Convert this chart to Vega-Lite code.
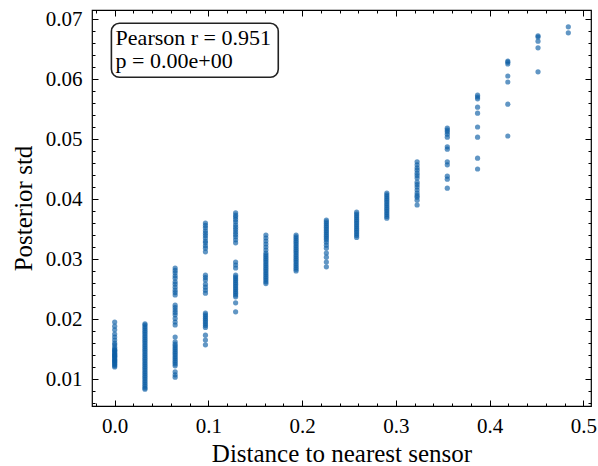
{
  "$schema": "https://vega.github.io/schema/vega-lite/v6.json",
  "width": 499,
  "height": 396,
  "autosize": "none",
  "padding": {"left": 92, "top": 10, "right": 7, "bottom": 60},
  "background": "white",
  "config": {
    "view": {"stroke": "#000", "strokeWidth": 1.2},
    "axis": {"domain": false, "grid": false, "tickColor": "#000", "tickWidth": 1, "labelColor": "#000", "titleColor": "#000", "labelFont": "Liberation Serif", "titleFont": "Liberation Serif", "titleFontWeight": "normal", "labelFontSize": 21, "titleFontSize": 25, "labelOverlap": false, "labelFlush": false}
  },
  "data": {"values": [
    {"dist":0,"std":0.0195},{"dist":0,"std":0.0188},{"dist":0,"std":0.0182},{"dist":0,"std":0.0175},{"dist":0,"std":0.017},{"dist":0,"std":0.0165},{"dist":0,"std":0.016},{"dist":0,"std":0.0157},{"dist":0,"std":0.0153},{"dist":0,"std":0.015},{"dist":0,"std":0.0148},{"dist":0,"std":0.0147},{"dist":0,"std":0.0145},{"dist":0,"std":0.0143},{"dist":0,"std":0.0141},{"dist":0,"std":0.014},{"dist":0,"std":0.0138},{"dist":0,"std":0.0137},{"dist":0,"std":0.0135},{"dist":0,"std":0.0133},{"dist":0,"std":0.0131},{"dist":0,"std":0.013},{"dist":0,"std":0.0128},{"dist":0,"std":0.0126},{"dist":0,"std":0.0124},{"dist":0,"std":0.0122},{"dist":0,"std":0.012},
    {"dist":0.0323,"std":0.0192},{"dist":0.0323,"std":0.019},{"dist":0.0323,"std":0.0187},{"dist":0.0323,"std":0.0184},{"dist":0.0323,"std":0.0181},{"dist":0.0323,"std":0.0178},{"dist":0.0323,"std":0.0175},{"dist":0.0323,"std":0.0172},{"dist":0.0323,"std":0.0169},{"dist":0.0323,"std":0.0166},{"dist":0.0323,"std":0.0163},{"dist":0.0323,"std":0.016},{"dist":0.0323,"std":0.0157},{"dist":0.0323,"std":0.0154},{"dist":0.0323,"std":0.0151},{"dist":0.0323,"std":0.0148},{"dist":0.0323,"std":0.0145},{"dist":0.0323,"std":0.0142},{"dist":0.0323,"std":0.0139},{"dist":0.0323,"std":0.0136},{"dist":0.0323,"std":0.0133},{"dist":0.0323,"std":0.013},{"dist":0.0323,"std":0.0127},{"dist":0.0323,"std":0.0124},{"dist":0.0323,"std":0.0121},{"dist":0.0323,"std":0.0118},{"dist":0.0323,"std":0.0115},{"dist":0.0323,"std":0.0112},{"dist":0.0323,"std":0.0109},{"dist":0.0323,"std":0.0106},{"dist":0.0323,"std":0.0103},{"dist":0.0323,"std":0.01},{"dist":0.0323,"std":0.0097},{"dist":0.0323,"std":0.0094},{"dist":0.0323,"std":0.0091},{"dist":0.0323,"std":0.0088},{"dist":0.0323,"std":0.0085},{"dist":0.0323,"std":0.0083},
    {"dist":0.0645,"std":0.0285},{"dist":0.0645,"std":0.0281},{"dist":0.0645,"std":0.0277},{"dist":0.0645,"std":0.0272},{"dist":0.0645,"std":0.0268},{"dist":0.0645,"std":0.0262},{"dist":0.0645,"std":0.0258},{"dist":0.0645,"std":0.0253},{"dist":0.0645,"std":0.0248},{"dist":0.0645,"std":0.0244},{"dist":0.0645,"std":0.024},{"dist":0.0645,"std":0.0223},{"dist":0.0645,"std":0.0219},{"dist":0.0645,"std":0.0215},{"dist":0.0645,"std":0.0211},{"dist":0.0645,"std":0.0207},{"dist":0.0645,"std":0.0201},{"dist":0.0645,"std":0.0195},{"dist":0.0645,"std":0.019},{"dist":0.0645,"std":0.017},{"dist":0.0645,"std":0.0162},{"dist":0.0645,"std":0.0158},{"dist":0.0645,"std":0.0155},{"dist":0.0645,"std":0.0152},{"dist":0.0645,"std":0.0149},{"dist":0.0645,"std":0.0146},{"dist":0.0645,"std":0.0143},{"dist":0.0645,"std":0.014},{"dist":0.0645,"std":0.0137},{"dist":0.0645,"std":0.0134},{"dist":0.0645,"std":0.0131},{"dist":0.0645,"std":0.0128},{"dist":0.0645,"std":0.0125},{"dist":0.0645,"std":0.0122},{"dist":0.0645,"std":0.0112},{"dist":0.0645,"std":0.0107},{"dist":0.0645,"std":0.0103},
    {"dist":0.0968,"std":0.036},{"dist":0.0968,"std":0.0356},{"dist":0.0968,"std":0.0352},{"dist":0.0968,"std":0.0347},{"dist":0.0968,"std":0.0343},{"dist":0.0968,"std":0.0339},{"dist":0.0968,"std":0.0335},{"dist":0.0968,"std":0.033},{"dist":0.0968,"std":0.0327},{"dist":0.0968,"std":0.0322},{"dist":0.0968,"std":0.0318},{"dist":0.0968,"std":0.0312},{"dist":0.0968,"std":0.0273},{"dist":0.0968,"std":0.0269},{"dist":0.0968,"std":0.0265},{"dist":0.0968,"std":0.0258},{"dist":0.0968,"std":0.0253},{"dist":0.0968,"std":0.0248},{"dist":0.0968,"std":0.0243},{"dist":0.0968,"std":0.021},{"dist":0.0968,"std":0.0207},{"dist":0.0968,"std":0.0204},{"dist":0.0968,"std":0.0201},{"dist":0.0968,"std":0.0198},{"dist":0.0968,"std":0.0195},{"dist":0.0968,"std":0.0192},{"dist":0.0968,"std":0.0189},{"dist":0.0968,"std":0.0186},{"dist":0.0968,"std":0.0173},{"dist":0.0968,"std":0.0165},{"dist":0.0968,"std":0.0157},
    {"dist":0.129,"std":0.0377},{"dist":0.129,"std":0.0373},{"dist":0.129,"std":0.037},{"dist":0.129,"std":0.0366},{"dist":0.129,"std":0.0362},{"dist":0.129,"std":0.0357},{"dist":0.129,"std":0.0353},{"dist":0.129,"std":0.0349},{"dist":0.129,"std":0.0345},{"dist":0.129,"std":0.0341},{"dist":0.129,"std":0.0337},{"dist":0.129,"std":0.0332},{"dist":0.129,"std":0.0327},{"dist":0.129,"std":0.0295},{"dist":0.129,"std":0.029},{"dist":0.129,"std":0.0285},{"dist":0.129,"std":0.0273},{"dist":0.129,"std":0.027},{"dist":0.129,"std":0.0267},{"dist":0.129,"std":0.0264},{"dist":0.129,"std":0.0261},{"dist":0.129,"std":0.0258},{"dist":0.129,"std":0.0255},{"dist":0.129,"std":0.0252},{"dist":0.129,"std":0.0249},{"dist":0.129,"std":0.0246},{"dist":0.129,"std":0.0243},{"dist":0.129,"std":0.024},{"dist":0.129,"std":0.0237},{"dist":0.129,"std":0.0227},{"dist":0.129,"std":0.0212},
    {"dist":0.1613,"std":0.034},{"dist":0.1613,"std":0.0335},{"dist":0.1613,"std":0.033},{"dist":0.1613,"std":0.0325},{"dist":0.1613,"std":0.032},{"dist":0.1613,"std":0.0315},{"dist":0.1613,"std":0.031},{"dist":0.1613,"std":0.0307},{"dist":0.1613,"std":0.0304},{"dist":0.1613,"std":0.0301},{"dist":0.1613,"std":0.0298},{"dist":0.1613,"std":0.0295},{"dist":0.1613,"std":0.0292},{"dist":0.1613,"std":0.0289},{"dist":0.1613,"std":0.0286},{"dist":0.1613,"std":0.0283},{"dist":0.1613,"std":0.028},{"dist":0.1613,"std":0.0277},{"dist":0.1613,"std":0.0274},{"dist":0.1613,"std":0.0271},{"dist":0.1613,"std":0.0268},{"dist":0.1613,"std":0.0265},{"dist":0.1613,"std":0.0262},{"dist":0.1613,"std":0.0259},
    {"dist":0.1935,"std":0.034},{"dist":0.1935,"std":0.0337},{"dist":0.1935,"std":0.0334},{"dist":0.1935,"std":0.0331},{"dist":0.1935,"std":0.0328},{"dist":0.1935,"std":0.0325},{"dist":0.1935,"std":0.0322},{"dist":0.1935,"std":0.0319},{"dist":0.1935,"std":0.0316},{"dist":0.1935,"std":0.0313},{"dist":0.1935,"std":0.031},{"dist":0.1935,"std":0.0307},{"dist":0.1935,"std":0.0304},{"dist":0.1935,"std":0.0301},{"dist":0.1935,"std":0.0298},{"dist":0.1935,"std":0.0295},{"dist":0.1935,"std":0.0292},{"dist":0.1935,"std":0.0289},{"dist":0.1935,"std":0.0286},{"dist":0.1935,"std":0.0283},{"dist":0.1935,"std":0.028},
    {"dist":0.2258,"std":0.0365},{"dist":0.2258,"std":0.0362},{"dist":0.2258,"std":0.0359},{"dist":0.2258,"std":0.0356},{"dist":0.2258,"std":0.0353},{"dist":0.2258,"std":0.035},{"dist":0.2258,"std":0.0347},{"dist":0.2258,"std":0.0344},{"dist":0.2258,"std":0.0341},{"dist":0.2258,"std":0.0338},{"dist":0.2258,"std":0.0335},{"dist":0.2258,"std":0.0332},{"dist":0.2258,"std":0.0328},{"dist":0.2258,"std":0.0323},{"dist":0.2258,"std":0.0318},{"dist":0.2258,"std":0.031},{"dist":0.2258,"std":0.0303},{"dist":0.2258,"std":0.0295},{"dist":0.2258,"std":0.0287},
    {"dist":0.2581,"std":0.0378},{"dist":0.2581,"std":0.0375},{"dist":0.2581,"std":0.0372},{"dist":0.2581,"std":0.0369},{"dist":0.2581,"std":0.0366},{"dist":0.2581,"std":0.0363},{"dist":0.2581,"std":0.036},{"dist":0.2581,"std":0.0357},{"dist":0.2581,"std":0.0354},{"dist":0.2581,"std":0.0351},{"dist":0.2581,"std":0.0348},{"dist":0.2581,"std":0.0345},{"dist":0.2581,"std":0.0342},{"dist":0.2581,"std":0.0339},{"dist":0.2581,"std":0.0336},
    {"dist":0.2903,"std":0.041},{"dist":0.2903,"std":0.0407},{"dist":0.2903,"std":0.0404},{"dist":0.2903,"std":0.0401},{"dist":0.2903,"std":0.0398},{"dist":0.2903,"std":0.0395},{"dist":0.2903,"std":0.0392},{"dist":0.2903,"std":0.0389},{"dist":0.2903,"std":0.0386},{"dist":0.2903,"std":0.0383},{"dist":0.2903,"std":0.038},{"dist":0.2903,"std":0.0377},{"dist":0.2903,"std":0.0374},{"dist":0.2903,"std":0.0371},{"dist":0.2903,"std":0.0368},
    {"dist":0.3226,"std":0.0462},{"dist":0.3226,"std":0.0457},{"dist":0.3226,"std":0.0452},{"dist":0.3226,"std":0.0448},{"dist":0.3226,"std":0.0443},{"dist":0.3226,"std":0.0439},{"dist":0.3226,"std":0.0435},{"dist":0.3226,"std":0.0428},{"dist":0.3226,"std":0.0424},{"dist":0.3226,"std":0.042},{"dist":0.3226,"std":0.0415},{"dist":0.3226,"std":0.041},{"dist":0.3226,"std":0.0406},{"dist":0.3226,"std":0.0403},{"dist":0.3226,"std":0.0398},{"dist":0.3226,"std":0.039},
    {"dist":0.3548,"std":0.0518},{"dist":0.3548,"std":0.0515},{"dist":0.3548,"std":0.0512},{"dist":0.3548,"std":0.0508},{"dist":0.3548,"std":0.0503},{"dist":0.3548,"std":0.0487},{"dist":0.3548,"std":0.0483},{"dist":0.3548,"std":0.0462},{"dist":0.3548,"std":0.0457},{"dist":0.3548,"std":0.0438},{"dist":0.3548,"std":0.0433},{"dist":0.3548,"std":0.0418},
    {"dist":0.3871,"std":0.0573},{"dist":0.3871,"std":0.057},{"dist":0.3871,"std":0.0567},{"dist":0.3871,"std":0.0553},{"dist":0.3871,"std":0.0543},{"dist":0.3871,"std":0.052},{"dist":0.3871,"std":0.0503},{"dist":0.3871,"std":0.0468},{"dist":0.3871,"std":0.045},
    {"dist":0.4194,"std":0.063},{"dist":0.4194,"std":0.0628},{"dist":0.4194,"std":0.0625},{"dist":0.4194,"std":0.0605},{"dist":0.4194,"std":0.0595},{"dist":0.4194,"std":0.0558},{"dist":0.4194,"std":0.0505},
    {"dist":0.4516,"std":0.0672},{"dist":0.4516,"std":0.067},{"dist":0.4516,"std":0.0663},{"dist":0.4516,"std":0.0652},{"dist":0.4516,"std":0.0612},
    {"dist":0.4839,"std":0.0687},{"dist":0.4839,"std":0.0677}
  ]},
  "resolve": {"axis": {"x": "independent", "y": "independent"}},
  "layer": [
    {
      "mark": {"type": "point", "filled": true, "color": "#0C5DA5", "opacity": 0.65, "size": 27, "strokeWidth": 0},
      "encoding": {
        "x": {"field": "dist", "type": "quantitative", "scale": {"domain": [-0.0242, 0.5081], "nice": false, "zero": false},
              "axis": {"orient": "bottom", "values": [0, 0.1, 0.2, 0.3, 0.4, 0.5], "format": ".1f", "tickSize": -6, "labelPadding": 15, "title": "Distance to nearest sensor", "titlePadding": 5}},
        "y": {"field": "std", "type": "quantitative", "scale": {"domain": [0.0055, 0.0715], "nice": false, "zero": false},
              "axis": {"orient": "left", "values": [0.01, 0.02, 0.03, 0.04, 0.05, 0.06, 0.07], "format": ".2f", "tickSize": -6, "labelPadding": 16, "title": "Posterior std", "titlePadding": 9}}
      }
    },
    {
      "mark": {"type": "point", "opacity": 0},
      "encoding": {
        "x": {"field": "dist", "type": "quantitative", "axis": {"orient": "top", "values": [0, 0.1, 0.2, 0.3, 0.4, 0.5], "tickSize": -6, "labels": false, "title": null}},
        "y": {"field": "std", "type": "quantitative", "axis": {"orient": "right", "values": [0.01, 0.02, 0.03, 0.04, 0.05, 0.06, 0.07], "tickSize": -6, "labels": false, "title": null}}
      }
    },
    {
      "mark": {"type": "point", "opacity": 0},
      "encoding": {
        "x": {"field": "dist", "type": "quantitative", "axis": {"orient": "bottom", "values": [-0.02, 0.02, 0.04, 0.06, 0.08, 0.12, 0.14, 0.16, 0.18, 0.22, 0.24, 0.26, 0.28, 0.32, 0.34, 0.36, 0.38, 0.42, 0.44, 0.46, 0.48], "tickSize": -3, "labels": false, "title": null}},
        "y": {"field": "std", "type": "quantitative", "axis": {"orient": "left", "values": [0.006, 0.008, 0.012, 0.014, 0.016, 0.018, 0.022, 0.024, 0.026, 0.028, 0.032, 0.034, 0.036, 0.038, 0.042, 0.044, 0.046, 0.048, 0.052, 0.054, 0.056, 0.058, 0.062, 0.064, 0.066, 0.068], "tickSize": -3, "labels": false, "title": null}}
      }
    },
    {
      "mark": {"type": "point", "opacity": 0},
      "encoding": {
        "x": {"field": "dist", "type": "quantitative", "axis": {"orient": "top", "values": [-0.02, 0.02, 0.04, 0.06, 0.08, 0.12, 0.14, 0.16, 0.18, 0.22, 0.24, 0.26, 0.28, 0.32, 0.34, 0.36, 0.38, 0.42, 0.44, 0.46, 0.48], "tickSize": -3, "labels": false, "title": null}},
        "y": {"field": "std", "type": "quantitative", "axis": {"orient": "right", "values": [0.006, 0.008, 0.012, 0.014, 0.016, 0.018, 0.022, 0.024, 0.026, 0.028, 0.032, 0.034, 0.036, 0.038, 0.042, 0.044, 0.046, 0.048, 0.052, 0.054, 0.056, 0.058, 0.062, 0.064, 0.066, 0.068], "tickSize": -3, "labels": false, "title": null}}
      }
    },
    {
      "data": {"values": [{"label": "box"}]},
      "mark": {"type": "rect", "fill": "white", "stroke": "#222", "strokeWidth": 1.6, "cornerRadius": 8},
      "encoding": {
        "x": {"datum": -0.0035, "type": "quantitative", "axis": null},
        "x2": {"datum": 0.1745},
        "y": {"datum": 0.06928, "type": "quantitative", "axis": null},
        "y2": {"datum": 0.06028}
      }
    },
    {
      "data": {"values": [{"label": "Pearson r = 0.951\np = 0.00e+00"}]},
      "mark": {"type": "text", "align": "left", "baseline": "alphabetic", "font": "Liberation Serif", "fontSize": 22, "lineHeight": 23, "color": "#000", "lineBreak": "\n"},
      "encoding": {
        "x": {"datum": 0.001, "type": "quantitative", "axis": null},
        "y": {"datum": 0.06567, "type": "quantitative", "axis": null},
        "text": {"field": "label"}
      }
    }
  ]
}
